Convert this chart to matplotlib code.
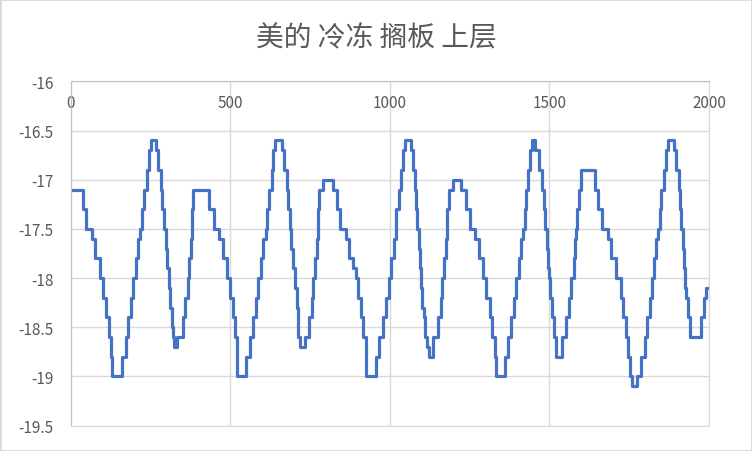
import numpy as np
import matplotlib.pyplot as plt

plt.rcParams['font.family'] = ['Noto Sans CJK SC', 'DejaVu Sans']
plt.rcParams['axes.unicode_minus'] = False

title = '美的 冷冻 搁板 上层'

# time index where each temperature level starts, and the level
step_x = [0, 38, 50, 66, 77, 92, 103, 111, 121, 126, 129, 160, 173, 181, 188, 197,
          205, 212, 217, 225, 231, 238, 245, 251, 268, 275, 283, 287, 294, 299,
          303, 308, 311, 317, 322, 324, 334, 351, 360, 367, 372, 377, 381, 384,
          433, 449, 466, 477, 489,
          499, 508, 515, 520, 523, 551, 562, 572, 580, 588, 596, 604, 611, 617,
          622, 630, 635, 642, 663, 669, 677, 682, 687, 692, 698, 703, 708, 713,
          720, 734, 748, 755, 760, 765, 771, 775, 779, 791, 823, 835, 844, 862,
          873, 885, 894, 901, 909, 917, 924, 927, 958,
          967, 979, 989, 997, 1005, 1013, 1021, 1028, 1034, 1040, 1047, 1066,
          1073, 1078, 1082, 1086, 1091, 1094, 1098, 1102, 1106, 1110, 1118, 1122,
          1136, 1151, 1159, 1165, 1170, 1175, 1180, 1186, 1198, 1222, 1240, 1252,
          1266, 1279, 1292, 1303, 1313, 1320, 1329, 1334, 1362, 1370, 1381, 1389,
          1396, 1404, 1410, 1417, 1423, 1428, 1433, 1438, 1447,
          1455, 1469, 1477, 1482, 1487, 1491, 1495, 1499, 1503, 1508, 1513, 1520,
          1540, 1553, 1561, 1569, 1576, 1581, 1584, 1587, 1593, 1600, 1642, 1652,
          1666, 1683, 1694, 1709, 1723, 1732, 1739, 1746, 1753, 1760, 1774, 1788,
          1798, 1805, 1814, 1821, 1827, 1833, 1840, 1845, 1850, 1858, 1864, 1871,
          1890, 1897, 1905, 1908, 1913, 1918, 1923, 1926, 1929, 1933, 1939, 1976,
          1983, 1991, 1998]
step_temp = [-17.1, -17.3, -17.5, -17.6, -17.8, -18.0, -18.2, -18.4, -18.6, -18.8, -19.0,
             -18.8, -18.6, -18.4, -18.2, -18.0, -17.8, -17.6, -17.5, -17.3, -17.1, -16.9,
             -16.7, -16.6, -16.7, -16.9, -17.1, -17.3, -17.5, -17.7, -17.9, -18.1, -18.3,
             -18.5, -18.6, -18.7, -18.6, -18.4, -18.2, -18.0, -17.8, -17.6, -17.3, -17.1,
             -17.3, -17.5, -17.6, -17.8, -18.0,
             -18.2, -18.4, -18.6, -18.8, -19.0, -18.8, -18.6, -18.4, -18.2, -18.0, -17.8,
             -17.6, -17.5, -17.3, -17.1, -16.9, -16.7, -16.6, -16.7, -16.9, -17.1, -17.3,
             -17.5, -17.7, -17.9, -18.1, -18.3, -18.6, -18.7, -18.6, -18.4, -18.2, -18.0,
             -17.8, -17.6, -17.3, -17.1, -17.0, -17.1, -17.3, -17.5, -17.6, -17.8, -17.9,
             -18.0, -18.2, -18.4, -18.6, -18.8, -19.0, -18.8,
             -18.6, -18.4, -18.2, -18.0, -17.8, -17.6, -17.3, -17.1, -16.9, -16.7, -16.6,
             -16.7, -16.9, -17.1, -17.3, -17.5, -17.7, -17.9, -18.1, -18.3, -18.4, -18.6,
             -18.7, -18.8, -18.6, -18.4, -18.2, -18.0, -17.8, -17.6, -17.3, -17.1, -17.0,
             -17.1, -17.3, -17.5, -17.6, -17.8, -18.0, -18.2, -18.4, -18.6, -18.8, -19.0,
             -18.8, -18.6, -18.4, -18.2, -18.0, -17.8, -17.6, -17.5, -17.3, -17.1, -16.9,
             -16.7, -16.6,
             -16.7, -16.9, -17.1, -17.3, -17.5, -17.7, -17.9, -18.0, -18.2, -18.4, -18.6,
             -18.8, -18.6, -18.4, -18.2, -18.0, -17.8, -17.6, -17.5, -17.3, -17.1, -16.9,
             -17.1, -17.3, -17.5, -17.6, -17.8, -18.0, -18.2, -18.4, -18.6, -18.8, -19.0,
             -19.1, -19.0, -18.8, -18.6, -18.4, -18.2, -18.0, -17.8, -17.6, -17.5, -17.3,
             -17.1, -16.9, -16.7, -16.6, -16.7, -16.9, -17.1, -17.3, -17.5, -17.7, -17.9,
             -18.1, -18.2, -18.4, -18.6, -18.4, -18.2, -18.1, -18.1]

x_ticks = [0, 500, 1000, 1500, 2000]
y_ticks = [-16, -16.5, -17, -17.5, -18, -18.5, -19, -19.5]

fig = plt.figure(figsize=(7.52, 4.52), dpi=100)
ax = fig.add_axes([0.0938, 0.0564, 0.8490, 0.7611])

ax.plot(step_x, step_temp, drawstyle='steps-post', color='#4472C4', lw=2.3)

ax.set_xlim(0, 2000)
ax.set_ylim(-19.5, -16)
ax.set_xticks(x_ticks)
ax.set_yticks(y_ticks)
ax.set_yticklabels([f'{v:g}' for v in y_ticks])
ax.grid(True, color='#D9D9D9', lw=1)
ax.set_axisbelow(True)

# x labels sit just under the top axis line, like Excel's crossing axis
ax.xaxis.tick_top()
ax.tick_params(axis='x', length=0, pad=-21, labelsize=11, labelcolor='#595959')
ax.tick_params(axis='y', length=0, pad=12, labelsize=11, labelcolor='#595959')

for s in ['left', 'top']:
    ax.spines[s].set_color('#BFBFBF')
for s in ['right', 'bottom']:
    ax.spines[s].set_color('#D9D9D9')

fig.text(0.5, 0.915, title, ha='center', va='center', fontsize=20,
         color='#595959', fontweight='light')

fig.add_artist(plt.Rectangle((0, 0), 1, 1, transform=fig.transFigure, fill=False,
                             ec='#D9D9D9', lw=2))

fig.savefig('out.png', dpi=100)
